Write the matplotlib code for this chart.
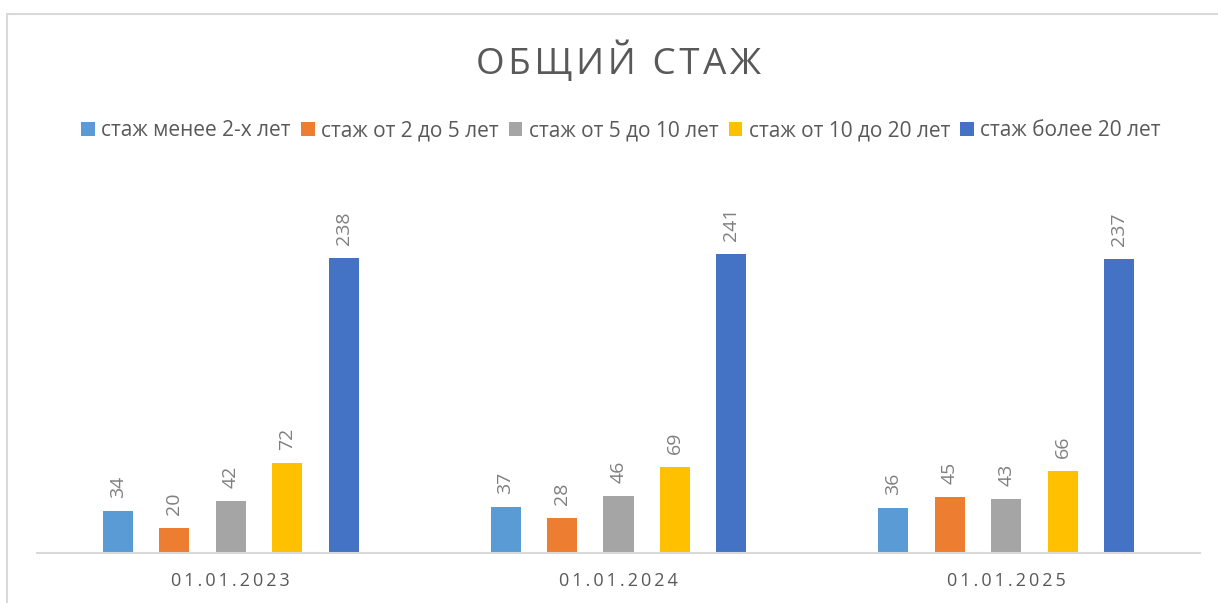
import numpy as np
import matplotlib.pyplot as plt
from matplotlib.patches import Rectangle

dates = ['01.01.2023', '01.01.2024', '01.01.2025']
series = ['стаж менее 2-х лет', 'стаж от 2 до 5 лет', 'стаж от 5 до 10 лет',
          'стаж от 10 до 20 лет', 'стаж более 20 лет']
less_2 = [34, 37, 36]
from_2_5 = [20, 28, 45]
from_5_10 = [42, 46, 43]
from_10_20 = [72, 69, 66]
over_20 = [238, 241, 237]
colors = ['#5B9BD5', '#ED7D31', '#A5A5A5', '#FFC000', '#4472C4']

plt.rcParams['font.family'] = ['Open Sans', 'DejaVu Sans']

W, H = 1218, 603
fig = plt.figure(figsize=(W / 100, H / 100), dpi=100)
ax = fig.add_axes([37 / W, 1 - 552.7 / H, (1200 - 37) / W, (552.7 - 180.7) / H])

# chart area border (only top and left visible in the crop)
fig.add_artist(Rectangle((7 / W, -0.2), 1.2, 1.2 - 14 / H, transform=fig.transFigure,
                         fill=False, edgecolor='#d9d9d9', lw=1.5))

x = np.arange(len(dates))
step, bw = 0.1457, 0.0774
vals = [less_2, from_2_5, from_5_10, from_10_20, over_20]
for i, (name, v, c) in enumerate(zip(series, vals, colors)):
    pos = x + (i - 2) * step
    bars = ax.bar(pos, v, bw, color=c, label=name, zorder=2)
    for b, val in zip(bars, v):
        ax.annotate(str(val), (b.get_x() + b.get_width() / 2, b.get_height()),
                    xytext=(0, 13), textcoords='offset pixels', rotation=90,
                    ha='center', va='bottom', fontsize=14, color='#7f7f7f')

ax.set_xlim(-0.5, 2.5)
ax.set_ylim(0, 300)
ax.set_yticks([])
for s in ['top', 'right', 'left']:
    ax.spines[s].set_visible(False)
ax.spines['bottom'].set_color('#d9d9d9')
ax.spines['bottom'].set_linewidth(1.5)
ax.set_xticks(x)
ax.set_xticklabels(['\u2009'.join(d) for d in dates], fontsize=13, color='#595959')
ax.tick_params(axis='x', length=0, pad=14)

fig.text(618 / W, 1 - 62 / H, '\u200a'.join('ОБЩИЙ СТАЖ'), ha='center', va='center',
         fontsize=26.5, color='#595959')

fig.legend(loc='center', bbox_to_anchor=(621 / W, 1 - 131 / H), ncol=5, frameon=False,
           fontsize=15, handlelength=0.65, handleheight=0.65, handletextpad=0.3,
           columnspacing=0.5, labelcolor='#595959')

fig.savefig('out.png', dpi=100)
